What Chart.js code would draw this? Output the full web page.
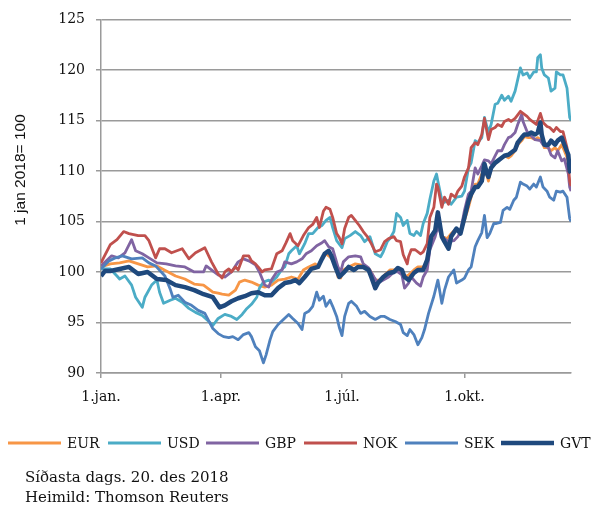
<!DOCTYPE html>
<html>
<head>
<meta charset="utf-8">
<script src="https://cdn.jsdelivr.net/npm/chart.js@4/dist/chart.umd.min.js"></script>
<style>
  html, body { margin: 0; padding: 0; background: #fff; }
  #wrap { position: relative; width: 594px; height: 509px; overflow: hidden; }
  #c { position: absolute; left: 0; top: 0; }
  #foot { position: absolute; left: 25px; top: 467px; font-family: "DejaVu Serif", serif; font-size: 15px; line-height: 20px; color: #111; }
</style>
</head>
<body>
<div id="wrap">
  <canvas id="c" width="594" height="509"></canvas>
  <div id="foot">Síðasta dags. 20. des 2018<br>Heimild: Thomson Reuters</div>
</div>
<script>
// x = day of year (1 Jan 2018 = 0), y = index (1 jan 2018 = 100)
const EUR_days = [0,7,14,21,28,35,42,49,56,63,70,77,84,88,91,96,101,104,108,113,118,123,128,133,138,143,148,152,156,161,163,166,169,172,176,178,180,182,186,191,195,198,202,206,210,213,217,221,225,228,231,235,238,242,245,247,251,253,256,260,263,267,270,273,276,278,281,283,286,288,291,293,296,298,301,303,306,308,311,313,316,318,321,323,326,328,331,333,336,338,341,343,346,348,352,353];
const EUR = [100.5,100.8,100.9,101.1,100.8,100.5,100.6,100.1,99.6,99.3,98.8,98.7,98.0,97.9,97.8,97.7,98.2,99.0,99.2,99.0,98.7,98.5,98.7,99.2,99.3,99.5,99.3,100.2,100.5,100.8,100.5,101.3,101.8,101.5,100.8,99.5,99.4,100.2,100.5,100.8,100.7,100.5,100.2,99.2,99.2,99.7,100.2,100.2,100.2,99.5,99.7,100.2,100.5,100.5,100.8,102.8,104.0,105.6,103.5,103.3,103.8,104.3,104.0,105.1,106.4,107.4,108.7,108.7,109.7,110.5,109.0,110.3,110.7,111.0,111.3,111.5,111.3,111.5,112.0,112.6,113.0,113.4,113.3,113.3,113.1,113.3,113.0,112.3,112.3,112.0,112.3,112.0,112.6,112.0,110.7,110.5];

const USD_days = [0,7,12,14,18,23,26,31,33,38,42,44,47,52,56,61,66,71,76,81,84,88,93,98,102,106,109,113,117,119,122,126,128,132,136,138,141,143,147,149,153,156,159,163,166,169,172,174,177,181,183,187,191,195,198,202,206,210,212,215,217,220,222,225,227,230,232,235,237,240,242,245,247,250,252,253,256,258,261,263,267,271,273,276,278,281,283,286,288,291,293,296,298,301,303,306,308,311,315,317,320,322,325,327,328,330,331,333,336,338,341,342,345,347,350,352,353];
const USD = [100.3,100.3,99.6,99.3,99.6,98.7,97.5,96.5,97.5,98.7,99.2,98.0,96.9,97.2,97.4,97.0,96.4,96.0,95.7,95.1,94.7,95.4,95.8,95.6,95.3,95.8,96.3,96.8,97.5,98.4,99.0,99.2,99.0,99.5,100.3,100.5,101.8,102.1,102.6,101.8,102.8,103.8,103.8,104.4,104.6,105.1,105.4,104.4,103.1,102.4,103.3,103.6,104.0,103.6,103.0,103.5,101.8,101.5,102.0,103.0,103.3,104.0,105.8,105.4,104.6,105.1,103.8,103.6,104.0,103.6,104.8,105.8,107.2,109.0,109.7,109.0,107.1,106.9,107.1,106.7,107.4,107.5,108.0,110.3,110.8,113.0,112.8,113.3,115.3,113.8,114.6,116.6,116.7,117.5,117.0,117.4,116.9,117.9,120.2,119.5,119.7,119.2,119.8,119.8,121.2,121.5,120.2,119.5,119.2,117.9,118.2,119.8,119.5,119.5,118.2,115.3,115.0];

const GBP_days = [0,8,13,18,23,26,31,36,42,49,56,63,70,77,79,84,88,93,98,103,107,111,116,119,123,126,128,132,136,138,143,147,151,154,158,162,166,168,171,174,178,180,182,186,191,195,197,201,205,208,212,216,220,223,226,228,231,233,237,240,242,245,247,251,253,256,258,261,265,268,270,273,276,278,281,283,286,288,291,293,296,298,301,303,306,308,311,313,316,317,320,322,326,330,332,336,338,341,343,346,348,351,352,353];
const GBP = [100.6,101.6,101.4,101.9,103.2,102.1,101.8,101.4,100.9,100.8,100.6,100.5,100.0,100.0,100.6,100.1,99.7,99.5,100.0,101.0,101.3,101.1,100.7,100.0,98.7,98.5,99.2,100.0,100.2,101.0,100.8,101.0,101.3,101.8,102.1,102.6,102.9,103.1,102.5,102.3,100.5,100.0,101.0,101.5,101.6,101.5,100.8,100.4,99.5,98.9,99.2,99.5,100.0,100.0,99.7,98.4,98.9,99.5,98.9,98.6,99.5,100.2,102.2,103.5,104.5,103.5,103.3,103.0,103.1,103.5,104.0,106.1,107.7,108.0,110.3,109.7,110.5,111.1,111.0,110.7,111.5,112.0,112.0,112.6,113.3,113.4,113.8,114.6,115.6,114.9,113.9,113.6,113.1,113.0,112.6,112.3,111.6,111.3,112.0,111.0,111.2,109.7,108.4,108.0];

const NOK_days = [0,7,12,17,21,28,33,36,41,44,48,53,61,66,71,78,83,88,91,93,96,98,101,103,107,111,113,116,118,121,123,128,132,136,139,142,144,148,152,156,159,162,164,167,169,172,174,177,179,181,183,186,188,191,194,197,200,203,206,210,213,216,220,222,225,227,230,231,233,236,240,242,245,247,250,252,253,256,258,261,263,266,268,271,273,276,278,281,283,286,288,291,293,296,298,301,303,306,308,311,315,317,320,322,325,327,330,332,335,337,340,342,345,347,350,352,353];
const NOK = [100.9,102.7,103.2,104.0,103.8,103.6,103.6,103.1,101.4,102.3,102.3,101.9,102.3,101.3,101.9,102.4,101.0,99.8,99.4,100.0,100.3,100.0,100.5,100.2,101.6,101.6,101.1,100.8,100.5,100.0,100.2,100.3,101.8,102.1,102.9,103.8,103.1,102.6,103.6,104.4,104.7,105.4,104.4,106.0,106.4,106.2,105.4,103.8,103.4,102.8,104.3,105.4,105.6,105.1,104.6,104.0,103.5,102.8,102.0,102.2,103.0,103.3,103.5,103.1,103.0,101.7,100.8,101.5,102.2,102.2,101.8,102.0,102.8,105.4,106.4,108.7,108.4,106.4,107.4,106.7,107.7,107.4,108.0,108.5,109.4,110.3,112.3,112.8,112.6,113.6,115.2,113.1,114.1,114.3,114.6,114.4,114.9,115.1,114.9,115.2,115.9,115.7,115.4,115.1,114.8,114.6,115.7,114.8,114.4,114.3,113.9,114.3,113.9,113.9,112.3,109.0,108.5];

const SEK_days = [0,6,11,16,23,31,36,41,48,52,54,58,63,68,73,78,84,88,92,96,99,103,107,111,113,116,119,122,124,127,129,133,137,141,144,148,151,153,156,159,162,164,167,169,172,174,177,179,181,183,186,188,192,195,198,202,206,210,213,217,221,225,227,230,232,235,238,241,243,246,250,253,256,258,261,265,267,271,273,276,278,281,283,286,288,290,292,295,297,300,302,305,307,310,312,315,317,320,322,325,327,330,332,335,337,340,342,345,347,350,352,353];
const SEK = [100.3,101.1,101.4,101.6,101.3,101.4,100.9,100.6,99.6,98.3,97.5,97.7,97.0,96.7,96.2,95.9,94.4,93.9,93.6,93.5,93.6,93.3,93.8,94.0,93.6,92.6,92.2,91.0,91.8,93.3,94.1,94.8,95.3,95.8,95.4,94.9,94.3,95.9,96.1,96.6,98.0,97.2,97.6,96.6,97.2,96.6,95.6,94.5,93.7,95.6,96.9,97.1,96.6,95.9,96.1,95.6,95.3,95.6,95.6,95.3,95.1,94.8,94.0,93.7,94.3,93.8,92.8,93.5,94.3,95.9,97.6,99.2,96.9,98.2,99.5,100.2,98.9,99.2,99.4,100.2,100.5,102.5,103.1,103.9,105.6,103.4,103.8,104.8,104.8,104.9,106.1,106.4,106.2,107.1,107.4,108.9,108.7,108.5,108.2,108.7,108.4,109.4,108.4,108.0,107.4,107.1,108.0,107.9,108.0,107.4,105.3,105.0];

const GVT_days = [0,3,7,14,21,28,35,42,49,56,63,70,77,84,89,93,98,103,108,113,118,123,128,133,138,142,146,149,153,158,163,166,168,171,173,176,179,182,186,190,193,197,201,203,206,208,212,216,220,223,226,228,231,235,238,242,245,248,251,253,256,258,261,263,267,270,273,276,278,281,283,286,288,290,291,293,296,298,301,303,306,308,311,313,316,318,321,323,326,328,330,331,333,336,338,341,343,346,348,351,352,353];
const GVT = [99.6,100.1,100.1,100.3,100.5,99.8,100.0,99.3,99.2,98.7,98.5,98.2,97.8,97.5,96.5,96.7,97.1,97.4,97.6,97.9,98.0,97.7,97.7,98.4,98.9,99.0,99.2,98.9,99.5,100.3,100.5,101.3,101.8,102.1,101.6,100.5,99.5,99.9,100.5,100.2,100.5,100.5,100.2,99.5,98.4,98.9,99.5,99.9,100.0,100.4,100.2,99.5,99.2,99.9,100.2,100.2,101.2,103.5,104.1,105.9,103.5,103.0,102.3,103.5,104.3,103.8,105.4,107.0,107.7,108.4,108.4,109.0,110.7,109.7,109.4,110.3,110.8,111.0,111.3,111.5,111.6,111.8,112.1,112.8,113.3,113.6,113.6,113.8,113.6,113.8,114.8,113.6,112.6,112.6,113.0,112.6,113.0,113.3,112.6,111.6,110.0,109.8];

const seriesNames = ['EUR','USD','GBP','NOK','SEK','GVT'];
const seriesDays = { EUR: EUR_days, USD: USD_days, GBP: GBP_days, NOK: NOK_days, SEK: SEK_days, GVT: GVT_days };
const seriesVals = { EUR, USD, GBP, NOK, SEK, GVT };
const tickDays = [0, 90, 181, 273];
const tickLabels = ['1.jan.', '1.apr.', '1.júl.', '1.okt.'];
const yTitle = '1 jan 2018= 100';

const colors = { EUR:'#F79646', USD:'#4BACC6', GBP:'#8064A2', NOK:'#C0504D', SEK:'#4F81BD', GVT:'#1F497D' };
const widths = { EUR:2.8, USD:2.8, GBP:2.8, NOK:2.8, SEK:2.8, GVT:4.5 };

const datasets = seriesNames.map((n, i) => ({
  label: n,
  data: seriesDays[n].map((d, k) => ({ x: d, y: seriesVals[n][k] })),
  borderColor: colors[n],
  backgroundColor: colors[n],
  borderWidth: widths[n],
  borderJoinStyle: 'round',
  pointRadius: 0,
  tension: 0,
  fill: false,
  order: seriesNames.length - i
}));

const grey = '#9a9a9a';

// y-axis title and legend row (legend layout as in the original figure)
const legendX = [8, 108, 206, 304, 405, 501];
const decorPlugin = {
  id: 'decor',
  afterDraw(chart) {
    const ctx = chart.ctx;
    ctx.save();
    ctx.translate(21, 170);
    ctx.rotate(-Math.PI / 2);
    ctx.font = '15.5px "Liberation Sans", sans-serif';
    ctx.fillStyle = '#111';
    ctx.textAlign = 'center';
    ctx.textBaseline = 'middle';
    ctx.fillText(yTitle, 0, 0);
    ctx.restore();

    ctx.save();
    ctx.font = '14px "DejaVu Serif", serif';
    ctx.textBaseline = 'middle';
    ctx.textAlign = 'left';
    const yc = 443;
    chart.data.datasets.forEach((ds, i) => {
      const x = legendX[i];
      const h = ds.borderWidth >= 4 ? 4.5 : 3;
      ctx.fillStyle = ds.borderColor;
      ctx.fillRect(x, yc - h / 2, 53, h);
      ctx.fillStyle = '#111';
      ctx.fillText(ds.label, x + 59, yc + 1);
    });
    ctx.restore();
  }
};

new Chart(document.getElementById('c'), {
  type: 'line',
  data: { datasets },
  plugins: [decorPlugin],
  options: {
    responsive: false,
    devicePixelRatio: 1,
    animation: false,
    layout: { padding: { top: 16, right: 23, bottom: 87, left: 0 } },
    plugins: {
      tooltip: { enabled: false },
      legend: { display: false }
    },
    scales: {
      x: {
        type: 'linear',
        min: 0,
        max: 353,
        afterBuildTicks(scale) { scale.ticks = tickDays.map(v => ({ value: v })); },
        afterFit(scale) { scale.height = 49; },
        ticks: {
          autoSkip: false,
          maxRotation: 0,
          padding: 11,
          color: '#111',
          font: { family: '"DejaVu Serif", serif', size: 14 },
          callback(v) { const i = tickDays.indexOf(v); return i >= 0 ? tickLabels[i] : ''; }
        },
        grid: { drawOnChartArea: false, drawTicks: true, tickLength: 5, color: grey, lineWidth: 1.5 },
        border: { display: true, color: grey, width: 1.5 }
      },
      y: {
        min: 90,
        max: 125,
        afterFit(scale) { scale.width = 101; },
        ticks: {
          stepSize: 5,
          padding: 11,
          color: '#111',
          font: { family: '"DejaVu Serif", serif', size: 14 }
        },
        grid: { color: grey, lineWidth: 1.5, drawTicks: true, tickLength: 5 },
        border: { display: true, color: grey, width: 1.5 }
      }
    }
  }
});
</script>
</body>
</html>
